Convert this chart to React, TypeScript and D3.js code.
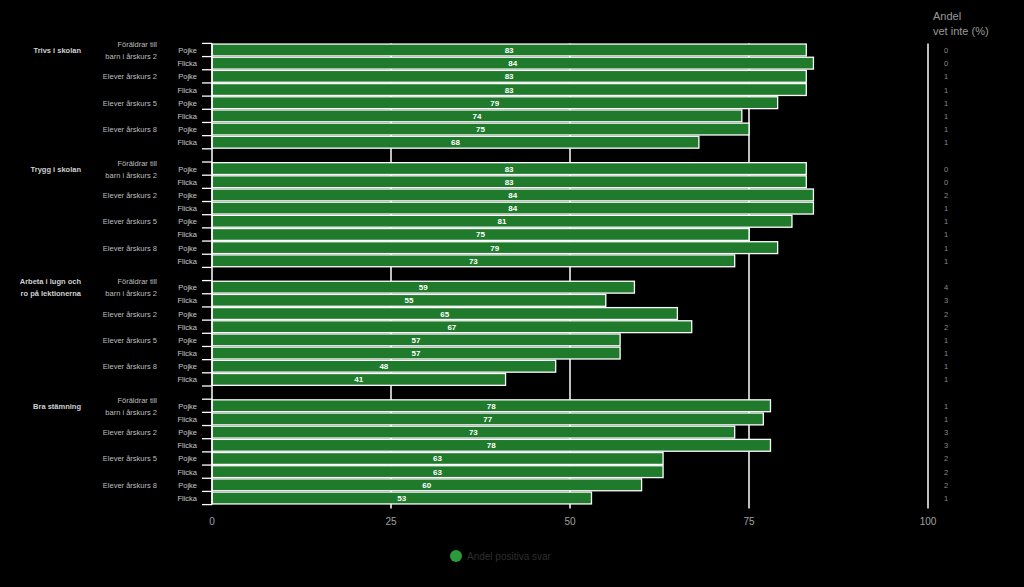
import React from "react";
import * as d3 from "d3";

const groups = ["Trivs i skolan", "Trygg i skolan", "Arbeta i lugn och|ro på lektionerna", "Bra stämning"];
const subgroups = ["Föräldrar till|barn i årskurs 2", "Elever årskurs 2", "Elever årskurs 5", "Elever årskurs 8"];
const genders = ["Pojke", "Flicka"];
const positiveShare = [
  [83, 84, 83, 83, 79, 74, 75, 68],
  [83, 83, 84, 84, 81, 75, 79, 73],
  [59, 55, 65, 67, 57, 57, 48, 41],
  [78, 77, 73, 78, 63, 63, 60, 53],
];
const dontKnowShare = [
  [0, 0, 1, 1, 1, 1, 1, 1],
  [0, 0, 2, 1, 1, 1, 1, 1],
  [4, 3, 2, 2, 1, 1, 1, 1],
  [1, 1, 3, 3, 2, 2, 2, 1],
];
const xTicks = [0, 25, 50, 75, 100];
const legendLabel = "Andel positiva svar";
const rightHeader = ["Andel", "vet inte (%)"];

type Row = { key: string; g: number; s: number; k: number; value: number; dk: number };

export default function App() {
  const W = 1024, H = 587;
  const x = d3.scaleLinear().domain([0, 100]).range([212, 928]);

  // slots: 8 rows per group plus one empty slot between groups
  const slotKeys: string[] = [];
  const rows: Row[] = [];
  groups.forEach((_, g) => {
    if (g > 0) slotKeys.push(`gap-${g}`);
    subgroups.forEach((_, s) => {
      genders.forEach((_, k) => {
        const key = `${g}-${s}-${k}`;
        slotKeys.push(key);
        rows.push({ key, g, s, k, value: positiveShare[g][s * 2 + k], dk: dontKnowShare[g][s * 2 + k] });
      });
    });
  });
  const y = d3.scaleBand<string>().domain(slotKeys).range([43.4, 504.6]).paddingInner(0.1).paddingOuter(0.05);
  const step = y.step();
  const top = 43.4, bottom = 504.6;
  const cy = (key: string) => (y(key) as number) + y.bandwidth() / 2;
  const boundaries = d3.range(slotKeys.length + 1).map((i) => top + i * ((bottom - top) / slotKeys.length));

  const font = "'Liberation Sans', Arial, sans-serif";

  return (
    <svg width={W} height={H} style={{ position: "absolute", left: 0, top: 0, background: "#000" }} fontFamily={font}>
      <rect x={0} y={0} width={W} height={H} fill="#000" />
      {/* gridlines */}
      {xTicks.filter((t) => t > 0).map((t) => (
        <line key={t} x1={x(t)} x2={x(t)} y1={top} y2={bottom + 4} stroke="#fff" strokeWidth={1.5} />
      ))}
      {/* bars */}
      {rows.map((r) => (
        <g key={r.key}>
          <rect x={x(0)} y={y(r.key) as number} width={x(r.value) - x(0)} height={y.bandwidth()} fill="#1f7a2c" stroke="#fff" strokeWidth={1.3} />
          <text x={x(r.value / 2)} y={cy(r.key) + 3} fontSize={8} fontWeight="bold" fill="#fff" textAnchor="middle">{r.value}</text>
          <text x={946} y={cy(r.key) + 3} fontSize={7.5} fill="#8a8a8a" textAnchor="middle">{r.dk}</text>
          <text x={197} y={cy(r.key) + 3} fontSize={7.5} fill="#c8c8c8" textAnchor="end">{genders[r.k]}</text>
        </g>
      ))}
      {/* y axis */}
      <line x1={x(0)} x2={x(0)} y1={top} y2={bottom} stroke="#fff" strokeWidth={1.5} />
      {boundaries.map((b, i) => (
        <line key={i} x1={x(0) - 10} x2={x(0)} y1={b} y2={b} stroke="#fff" strokeWidth={1.3} />
      ))}
      {/* subgroup labels */}
      {groups.map((_, g) =>
        subgroups.map((sub, s) => {
          const py = cy(`${g}-${s}-0`);
          const lines = sub.split("|");
          return lines.map((ln, i) => (
            <text key={`${g}-${s}-${i}`} x={157} y={lines.length > 1 ? py - 5 + i * 12 + 2 : py + 3} fontSize={7.5} fill="#bdbdbd" textAnchor="end">{ln}</text>
          ));
        })
      )}
      {/* group labels */}
      {groups.map((grp, g) => {
        const py = cy(`${g}-0-0`);
        const lines = grp.split("|");
        return lines.map((ln, i) => (
          <text key={`g${g}-${i}`} x={81} y={lines.length > 1 ? py - 5 + i * 12 + 2 : py + 3} fontSize={7.5} fontWeight="bold" fill="#d0d0d0" textAnchor="end">{ln}</text>
        ));
      })}
      {/* x tick labels */}
      {xTicks.map((t) => (
        <text key={t} x={x(t)} y={525} fontSize={10} fill="#a0a0a0" textAnchor="middle">{t}</text>
      ))}
      {/* right header */}
      {rightHeader.map((h, i) => (
        <text key={h} x={933} y={20 + i * 15} fontSize={11} fill="#9a9a9a">{h}</text>
      ))}
      {/* legend */}
      <circle cx={456} cy={556} r={6} fill="#2a9a3a" />
      <text x={467} y={560} fontSize={10} fill="#2e2e2e">{legendLabel}</text>
    </svg>
  );
}
